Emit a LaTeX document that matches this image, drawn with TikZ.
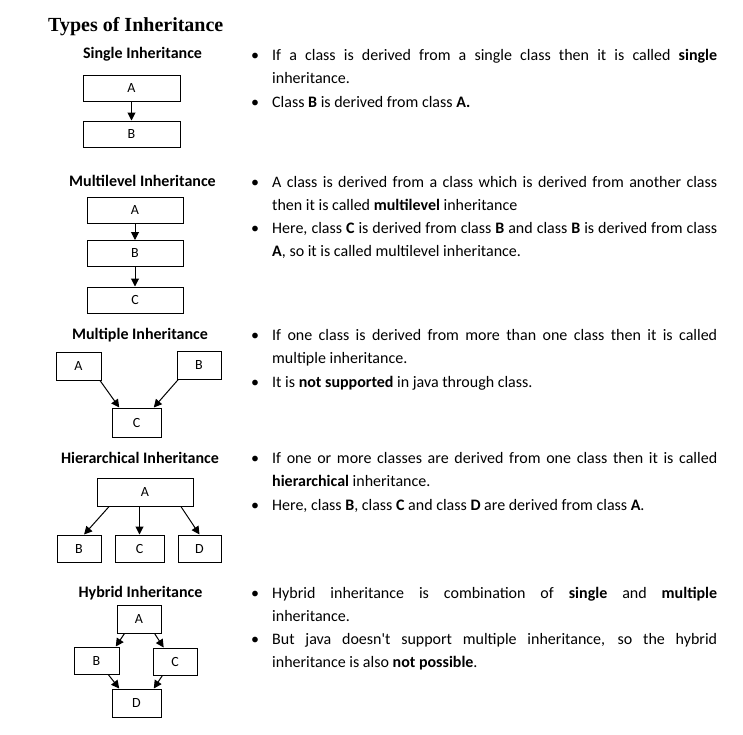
\documentclass[tikz,border=0pt]{standalone}
\usepackage{fontspec}
\setmainfont{Carlito}
\newfontfamily\titlefont{Liberation Serif}
\usepackage{tikz}
\usetikzlibrary{arrows.meta,positioning}
\hyphenpenalty=10000
\exhyphenpenalty=10000
\newcommand{\bul}{\llap{\makebox[21pt][l]{\textbullet}}\strut}

\begin{document}
\begin{tikzpicture}[x=1pt, y=-1pt,
  cls/.style={draw, line width=1pt, inner sep=0pt, minimum height=26pt, font=\fontsize{14}{16}\selectfont},
  wide/.style={cls, minimum width=96pt},
  small/.style={cls, minimum width=45pt, minimum height=28pt},
  heading/.style={anchor=base, inner sep=0pt, font=\fontsize{16}{20}\selectfont\bfseries},
  note/.style={anchor=north west, inner sep=0pt, text width=445pt, align=justify, font=\fontsize{16}{23}\selectfont},
  arr/.style={line width=1pt, -{Triangle[length=8pt,width=8pt]}}
]
\useasboundingbox (0,0) rectangle (743,734);

% Title
\node[anchor=base west, inner sep=0pt, font=\fontsize{20}{24}\selectfont\titlefont\bfseries] (title) at (48,31) {Types of Inheritance};

% Single
\node[heading] (hsingle) at (142.5,58) {Single Inheritance};
\node[wide, minimum width=97pt] (sA) at (131.5,88) {A};
\node[wide, minimum width=97pt] (sB) at (131.5,134) {B};
\draw[arr] (sA) -- (sB);

% Multilevel
\node[heading] (hmulti) at (142.5,186) {Multilevel Inheritance};
\foreach \n/\y in {A/210,B/253.5,C/300} {
  \node[wide] (l\n) at (135,\y) {\n};
}
\draw[arr] (lA) -- (lB);
\draw[arr] (lB) -- (lC);

% Multiple
\node[heading] (hmultiple) at (140,339) {Multiple Inheritance};
\node[small] (mA) at (78.5,366) {A};
\node[small, minimum width=44pt] (mB) at (199,365) {B};
\node[small, minimum width=49pt, minimum height=29pt] (mC) at (136.5,422.5) {C};
\draw[arr] (mA.-34) -- (mC.139);
\draw[arr] (mB.215) -- (mC.41);

% Hierarchical
\node[heading] (hhier) at (140,463) {Hierarchical Inheritance};
\node[wide, minimum height=28pt] (hA) at (145,492) {A};
\node[small, minimum width=44pt, minimum height=27pt] (hB) at (79,548.5) {B};
\node[small, minimum width=49pt, minimum height=27pt] (hC) at (139.5,548.5) {C};
\node[small, minimum width=43pt, minimum height=27pt] (hD) at (199.5,548.5) {D};
\draw[arr] (hA.202) -- (hB.70);
\draw[arr] (hC.north |- hA.south) -- (hC.north);
\draw[arr] (hA.-22) -- (hD.north);

% Hybrid
\node[heading] (hhybrid) at (140.5,597) {Hybrid Inheritance};
\node[small, minimum width=44pt] (yA) at (139,619) {A};
\node[small, minimum height=27pt] (yB) at (96.5,660.5) {B};
\node[small, minimum width=44pt, minimum height=27pt] (yC) at (175,661.5) {C};
\node[small, minimum width=49pt] (yD) at (136.5,703) {D};
\draw[arr] (yA.225) -- (yB.36);
\draw[arr] (yA.-43) -- (yC.129);
\draw[arr] (yB.-50) -- (yD.140);
\draw[arr] (yC.228) -- (yD.40);

% Notes
\node[note] (tsingle1) at (272,44.4) {\bul If a class is derived from a single class then it is called \textbf{single} inheritance.\strut};
\node[note] (tsingle2) at (tsingle1.south west) {\bul Class \textbf{B} is derived from class \textbf{A.}\strut};

\node[note] (tmulti1) at (272,171) {\bul A class is derived from a class which is derived from another class\linebreak then it is called \textbf{multilevel} inheritance\strut};
\node[note] (tmulti2) at (tmulti1.south west) {\bul Here, class \textbf{C} is derived from class \textbf{B} and class \textbf{B} is derived from class \textbf{A}, so it is called multilevel inheritance.\strut};

\node[note] (tmultiple1) at (272,324.4) {\bul If one class is derived from more than one class then it is called multiple inheritance.\strut};
\node[note] (tmultiple2) at (tmultiple1.south west) {\bul It is \textbf{not supported} in java through class.\strut};

\node[note] (thier1) at (272,447.4) {\bul If one or more classes are derived from one class then it is called \textbf{hierarchical} inheritance.\strut};
\node[note] (thier2) at (thier1.south west) {\bul Here, class \textbf{B}, class \textbf{C} and class \textbf{D} are derived from class \textbf{A}.\strut};

\node[note] (thybrid1) at (272,582) {\bul Hybrid inheritance is combination of \textbf{single} and \textbf{multiple}\linebreak inheritance.\strut};
\node[note] (thybrid2) at (thybrid1.south west) {\bul But java doesn\textquotesingle t support multiple inheritance, so the hybrid inheritance is also \textbf{not possible}.\strut};
\end{tikzpicture}
\end{document}
